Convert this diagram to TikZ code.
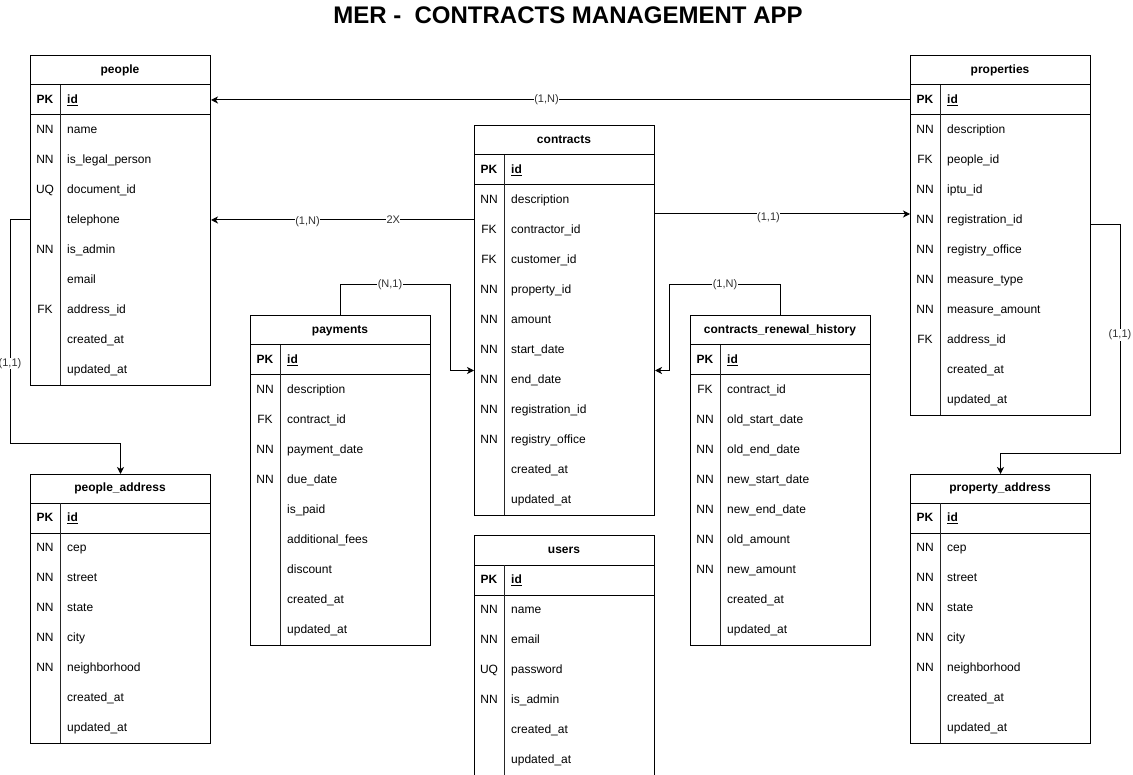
\documentclass[tikz,border=0pt]{standalone}
\usepackage{fontspec}
\setmainfont{Liberation Sans}
\usetikzlibrary{arrows.meta,calc}
\tikzset{
  tbl/.style={draw, line width=1pt, minimum width=180pt, anchor=north west, inner sep=0pt, fill=white},
  ttl/.style={font=\bfseries\fontsize{12}{14}\selectfont, inner sep=0pt, text height=9pt, text depth=2.5pt},
  keyc/.style={font=\fontsize{12}{14}\selectfont, inner sep=0pt, text height=9pt, text depth=2.5pt},
  fld/.style={anchor=west, font=\fontsize{12}{14}\selectfont, inner sep=0pt, text height=9pt, text depth=2.5pt},
  sep/.style={line width=1pt},
  csep/.style={line width=0.8pt, black!85},
  conn/.style={line width=1pt, -{Stealth[length=7pt,width=7pt,inset=2pt]}},
  lbl/.style={fill=white, inner sep=0.5pt, font=\fontsize{11}{12}\selectfont, text=black!80},
}
\newcommand\ertable[7]{%
  \pgfmathsetmacro\tabH{#5+30+30*#6}%
  \node[tbl, minimum height=\tabH pt] (#1) at (#2,#3) {};
  \node[ttl] (#1-t) at ({#2+90},{#3+#5/2}) {#4};
  \draw[sep] ({#2},{#3+#5}) -- ++(180,0);
  \draw[sep] ({#2},{#3+#5+30}) -- ++(180,0);
  \draw[csep] ({#2+30},{#3+#5}) -- ({#2+30},{#3+\tabH});
  \node[keyc, font=\bfseries\fontsize{12}{14}\selectfont] (#1-pk) at ({#2+15},{#3+#5+15}) {PK};
  \node[fld, font=\bfseries\fontsize{12}{14}\selectfont] (#1-id) at ({#2+37},{#3+#5+15}) {\underline{id}};
  \foreach \k/\f [count=\i] in {#7} {
    \node[keyc] (#1-k\i) at ({#2+15},{#3+#5+15+30*\i}) {\k};
    \node[fld] (#1-f\i) at ({#2+37},{#3+#5+15+30*\i}) {\f};
  }
}
\begin{document}
\begin{tikzpicture}[x=1pt,y=-1pt]
\useasboundingbox[fill=white] (0,0) rectangle (1133,775);
\node[font=\bfseries\fontsize{24}{28}\selectfont] (title) at (568,15) {MER -\ \ CONTRACTS MANAGEMENT APP};

\ertable{people}{30}{55}{people}{30}{9}{NN/name, NN/is\_legal\_person, UQ/document\_id, {}/telephone, NN/is\_admin, {}/email, FK/address\_id, {}/created\_at, {}/updated\_at}
\ertable{properties}{910}{55}{properties}{30}{10}{NN/description, FK/people\_id, NN/iptu\_id, NN/registration\_id, NN/registry\_office, NN/measure\_type, NN/measure\_amount, FK/address\_id, {}/created\_at, {}/updated\_at}
\ertable{contracts}{474}{125}{contracts}{30}{11}{NN/description, FK/contractor\_id, FK/customer\_id, NN/property\_id, NN/amount, NN/start\_date, NN/end\_date, NN/registration\_id, NN/registry\_office, {}/created\_at, {}/updated\_at}
\ertable{users}{474}{535}{users}{30}{6}{NN/name, NN/email, UQ/password, NN/is\_admin, {}/created\_at, {}/updated\_at}
\ertable{payments}{250}{315}{payments}{30}{9}{NN/description, FK/contract\_id, NN/payment\_date, NN/due\_date, {}/is\_paid, {}/additional\_fees, {}/discount, {}/created\_at, {}/updated\_at}
\ertable{crh}{690}{315}{contracts\_renewal\_history}{30}{9}{FK/contract\_id, NN/old\_start\_date, NN/old\_end\_date, NN/new\_start\_date, NN/new\_end\_date, NN/old\_amount, NN/new\_amount, {}/created\_at, {}/updated\_at}
\ertable{paddr}{30}{474}{people\_address}{29}{7}{NN/cep, NN/street, NN/state, NN/city, NN/neighborhood, {}/created\_at, {}/updated\_at}
\ertable{praddr}{910}{474}{property\_address}{29}{7}{NN/cep, NN/street, NN/state, NN/city, NN/neighborhood, {}/created\_at, {}/updated\_at}

% properties -> people
\draw[conn] (properties.west |- properties-id) -- node[lbl,pos=0.52]{(1,N)} (people.east |- people-id);
% contracts -> people
\draw[conn] (contracts.west |- people-f4) -- node[lbl,pos=0.307]{2X} node[lbl,pos=0.633,yshift=-2pt]{(1,N)} (people.east |- people-f4);
% contracts -> properties
\draw[conn] ($(contracts.east |- properties-f4)+(0,-6)$) -- node[lbl,pos=0.445,yshift=-4pt]{(1,1)} ($(properties.west |- properties-f4)+(0,-6)$);
% payments -> contracts
\draw[conn] (payments.north) -- ++(0,-30) -- node[lbl,pos=0.45]{(N,1)} ++(110,0) |- ($(contracts.west)+(0,50)$);
% contracts_renewal_history -> contracts
\draw[conn] (crh.north) -- ++(0,-30) -- node[lbl,pos=0.5]{(1,N)} ++(-111,0) |- ($(contracts.east)+(0,50)$);
% people -> people_address
\draw[conn] (people.west |- people-f4) -- ++(-20,0) -- node[lbl,pos=0.64]{(1,1)} ++(0,224) -| (paddr.north);
% properties -> property_address
\draw[conn] ($(properties.east |- properties-f4)+(0,5)$) -- ++(29,0) -- node[lbl,pos=0.48]{(1,1)} ++(0,229) -| (praddr.north);
\end{tikzpicture}
\end{document}
